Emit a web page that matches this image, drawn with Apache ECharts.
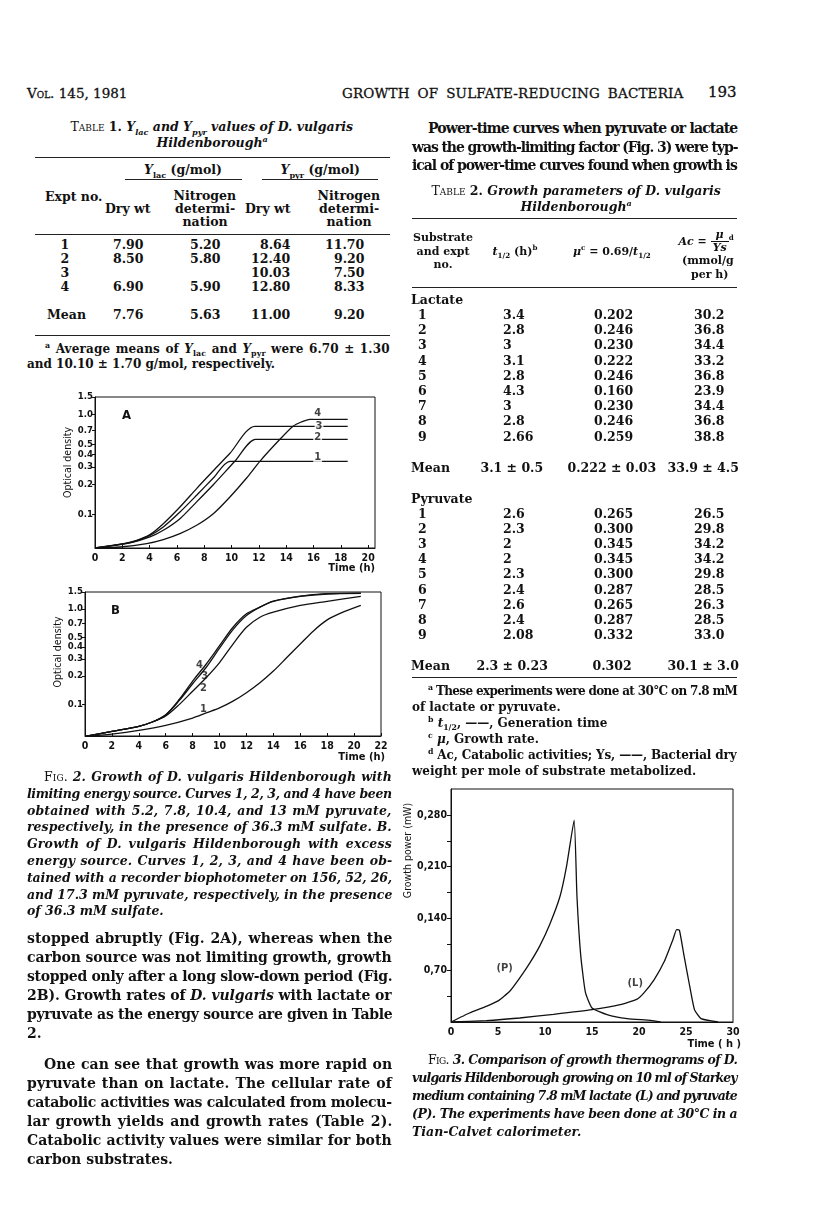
<!DOCTYPE html>
<html>
<head>
<meta charset="utf-8">
<script src="https://cdn.jsdelivr.net/npm/echarts@6/dist/echarts.min.js"></script>
<style>
  body { margin: 0; background: #fff; }
  #page { position: relative; width: 816px; height: 1231px; overflow: hidden;
          font-family: 'DejaVu Serif', serif; color: #111; }
  .t { position: absolute; white-space: nowrap; line-height: 16px; font-size: 14px; font-weight: bold; }
  .sc { font-variant: small-caps; }
  .cap { font-style: italic; font-size: 12.5px; }
  .tb { font-size: 12.5px; }
  .hd { font-size: 11px; }
  .fn { font-size: 12px; }
  .head { font-size: 13.5px; font-weight: normal; -webkit-text-stroke: 0.3px #111; }
  .big { font-size: 15px; }
  .rule { position: absolute; height: 0; border-top: 1px solid #222; }
  .chart { position: absolute; }
  sub, sup { font-size: 65%; line-height: 0; }
  .frac { display: inline-block; vertical-align: middle; text-align: center; line-height: 12px; }
  .frac span { display: block; padding: 0 2px; }
  .frac span:first-child { border-bottom: 1px solid #111; }
</style>
</head>
<body>
<div id="page">
  <div id="figA" class="chart" style="left:30px;top:380px;width:400px;height:200px"></div>
  <div id="figB" class="chart" style="left:20px;top:575px;width:400px;height:195px"></div>
  <div id="fig3" class="chart" style="left:380px;top:770px;width:400px;height:290px"></div>
</div>
<script type="text/javascript">
// ---------- data ----------
// Fig. 2A: optical density against time (h), limiting energy source
var curveA1 = [[0,0.0463],[2.56,0.0524],[4.02,0.062],[5,0.0752],[6.22,0.106],[7.44,0.156],[8.66,0.232],[9.88,0.341],[18.5,0.341]];
var curveA2 = [[0,0.0463],[2.56,0.052],[4.02,0.0597],[5,0.0696],[6.22,0.091],[7.44,0.134],[8.66,0.199],[10.24,0.341],[11.76,0.566],[18.5,0.566]];
var curveA3 = [[0,0.0463],[1.83,0.0505],[3.05,0.0553],[4.02,0.063],[5,0.0811],[6.22,0.119],[7.44,0.182],[8.66,0.274],[9.88,0.41],[11.7,0.764],[18.5,0.764]];
var curveA4 = [[0,0.0463],[1.83,0.0474],[3.78,0.0512],[5,0.0562],[6.22,0.0644],[7.44,0.0781],[8.66,0.102],[9.88,0.15],[11.1,0.232],[12.07,0.341],[13.54,0.566],[14.5,0.764],[15.1,0.843],[15.73,0.897],[18.5,0.897]];
var tagsA = [[16.3,1.04,'4'],[16.4,0.767,'3'],[16.3,0.595,'2'],[16.3,0.375,'1']];

// Fig. 2B: optical density against time (h), excess energy source
var curveB1 = [[0,0.0465],[2,0.0492],[4,0.0537],[6,0.0607],[8,0.0724],[9,0.0818],[10,0.0923],[11,0.1086],[12,0.133],[13,0.169],[14,0.224],[15,0.31],[16,0.429],[17,0.592],[18,0.767],[19,0.901],[20.5,1.086]];
var curveB2 = [[0,0.0465],[2,0.0525],[4,0.0593],[5,0.0658],[6,0.076],[7,0.1],[8,0.138],[9,0.191],[10,0.275],[11,0.429],[12,0.642],[13,0.818],[14,0.923],[16,1.086],[18,1.2],[20.5,1.35]];
var curveB3 = [[0,0.0465],[2,0.0525],[4,0.0593],[5,0.0658],[6,0.078],[7,0.11],[8,0.165],[9,0.244],[10,0.389],[11,0.607],[12,0.851],[13,1.043],[14,1.2],[16,1.35],[18,1.43],[20.5,1.45]];
var curveB4 = [[0,0.0465],[2,0.0525],[4,0.0593],[5,0.0658],[6,0.0785],[7,0.113],[8,0.176],[9,0.264],[10,0.412],[11,0.642],[12,0.887],[13,1.043],[14,1.206],[16,1.36],[18,1.44],[20.5,1.46]];
var tagsB = [[8.5,0.26,'4'],[8.9,0.199,'3'],[8.8,0.148,'2'],[8.8,0.0887,'1']];

var odTicks = [0.1, 0.2, 0.3, 0.4, 0.5, 0.7, 1.0, 1.5];
var timeTicksA = [0, 2, 4, 6, 8, 10, 12, 14, 16, 18, 20];
var timeTicksB = [0, 2, 4, 6, 8, 10, 12, 14, 16, 18, 20, 22];

// Fig. 3: growth power (mW) against time (h)
var powerP = [[0,0],[1.96,0.0122],[3.75,0.0212],[5.07,0.0289],[6.25,0.0415],[7.32,0.0596],[8.39,0.0799],[9.46,0.1033],[10.5,0.1318],[11.6,0.17],[12.3,0.211],[13.1,0.273],[13.4,0.17],[13.8,0.09],[14.3,0.04],[15,0.019],[16.6,0.0099],[18.75,0.0045],[21.25,0.0023],[22.3,0]];
var powerL = [[0,0],[3.75,0.0018],[7.3,0.0054],[10.9,0.0104],[15,0.0167],[18,0.0235],[19.8,0.031],[20.5,0.039],[21.6,0.057],[22.7,0.082],[23.6,0.111],[24.0,0.125],[24.3,0.124],[24.8,0.0889],[25.4,0.048],[25.9,0.0167],[26.6,0.0045],[28.4,0]];
var tags3 = [[5.7,0.0731,'(P)'],[19.6,0.0528,'(L)']];
var powerTicks = [0.035, 0.07, 0.105, 0.14, 0.175, 0.21, 0.245, 0.28];
var powerLabelValues = [0.07, 0.14, 0.21, 0.28];
var powerLabels = ['0,70', '0,140', '0,210', '0,280'];
var timeTicks3 = [0, 5, 10, 15, 20, 25, 30];

// Table 1
var t1Expt = ['1', '2', '3', '4'];
var t1LacDry = ['7.90', '8.50', '', '6.90'];
var t1LacN = ['5.20', '5.80', '', '5.90'];
var t1PyrDry = ['8.64', '12.40', '10.03', '12.80'];
var t1PyrN = ['11.70', '9.20', '7.50', '8.33'];
var t1Mean = ['7.76', '5.63', '11.00', '9.20'];

// Table 2
var lacT = ['3.4', '2.8', '3', '3.1', '2.8', '4.3', '3', '2.8', '2.66'];
var lacMu = ['0.202', '0.246', '0.230', '0.222', '0.246', '0.160', '0.230', '0.246', '0.259'];
var lacAc = ['30.2', '36.8', '34.4', '33.2', '36.8', '23.9', '34.4', '36.8', '38.8'];
var lacMean = ['3.1 ± 0.5', '0.222 ± 0.03', '33.9 ± 4.5'];
var pyrT = ['2.6', '2.3', '2', '2', '2.3', '2.4', '2.6', '2.4', '2.08'];
var pyrMu = ['0.265', '0.300', '0.345', '0.345', '0.300', '0.287', '0.265', '0.287', '0.332'];
var pyrAc = ['26.5', '29.8', '34.2', '34.2', '29.8', '28.5', '26.3', '28.5', '33.0'];
var pyrMean = ['2.3 ± 0.23', '0.302', '30.1 ± 3.0'];

// ---------- page text ----------
var page = document.getElementById('page');

function txt(x, y, html, opt) {
  opt = opt || {};
  var d = document.createElement('div');
  d.className = 't ' + (opt.cls || '');
  d.innerHTML = html;
  page.appendChild(d);
  var w = d.offsetWidth;
  var left = x;
  if (opt.align === 'center') left = x - w / 2;
  else if (opt.align === 'right') left = x - w;
  if (opt.width) {
    // spread (or squeeze) a line to the column width
    var s = d.textContent;
    var n = (s.match(/ /g) || []).length;
    var extra = opt.width - w;
    var ls = extra >= 0 ? Math.min(0.5, extra * 0.4 / s.length) : Math.max(-1.2, extra / s.length);
    d.style.letterSpacing = ls + 'px';
    var w2 = d.offsetWidth;
    if (n) d.style.wordSpacing = ((opt.width - w2) / n) + 'px';
  }
  d.style.left = left + 'px';
  d.style.top = (y - d.offsetHeight / 2) + 'px';
}
function rule(x, y, w, thick) {
  var d = document.createElement('div');
  d.className = 'rule';
  d.style.left = x + 'px';
  d.style.top = y + 'px';
  d.style.width = w + 'px';
  if (thick) d.style.borderTopWidth = thick + 'px';
  page.appendChild(d);
}

// running head
txt(27, 93, '<span class="sc">Vol.</span> 145, 1981', {cls: 'head'});
txt(342, 93, 'GROWTH OF SULFATE-REDUCING BACTERIA', {width: 341, cls: 'head'});
txt(708, 92, '193', {cls: 'head big'});

// Table 1
txt(212, 127, '<span class="sc" style="font-weight:normal">Table</span> 1. <i>Y<sub>lac</sub> and Y<sub>pyr</sub> values of D. vulgaris</i>', {align: 'center', cls: 'tb'});
txt(212, 143, '<i>Hildenborough<sup>a</sup></i>', {align: 'center', cls: 'tb'});
rule(35, 157, 355, 1.5);
txt(183, 170, '<i>Y</i><sub>lac</sub> (g/mol)', {align: 'center', cls: 'tb'});
txt(320, 170, '<i>Y</i><sub>pyr</sub> (g/mol)', {align: 'center', cls: 'tb'});
rule(125, 179, 117);
rule(262, 179, 116);
txt(45, 197, 'Expt no.', {cls: 'tb'});
txt(128, 209, 'Dry wt', {align: 'center', cls: 'tb'});
txt(268, 209, 'Dry wt', {align: 'center', cls: 'tb'});
['Nitrogen', 'determi-', 'nation'].forEach(function (s, i) {
  txt(205, 196 + i * 13, s, {align: 'center', cls: 'tb'});
  txt(349, 196 + i * 13, s, {align: 'center', cls: 'tb'});
});
rule(35, 234, 355);
t1Expt.forEach(function (s, i) {
  var y = 245 + i * 14;
  txt(65, y, s, {align: 'center', cls: 'tb'});
  if (t1LacDry[i]) txt(128, y, t1LacDry[i], {align: 'center', cls: 'tb'});
  if (t1LacN[i]) txt(205, y, t1LacN[i], {align: 'center', cls: 'tb'});
  txt(290, y, t1PyrDry[i], {align: 'right', cls: 'tb'});
  txt(364, y, t1PyrN[i], {align: 'right', cls: 'tb'});
});
txt(47, 315, 'Mean', {cls: 'tb'});
txt(128, 315, t1Mean[0], {align: 'center', cls: 'tb'});
txt(205, 315, t1Mean[1], {align: 'center', cls: 'tb'});
txt(290, 315, t1Mean[2], {align: 'right', cls: 'tb'});
txt(364, 315, t1Mean[3], {align: 'right', cls: 'tb'});
rule(35, 335, 355, 1.5);
txt(45, 349, '<sup>a</sup> Average means of <i>Y</i><sub>lac</sub> and <i>Y</i><sub>pyr</sub> were 6.70 ± 1.30', {width: 345, cls: 'fn'});
txt(27, 364, 'and 10.10 ± 1.70 g/mol, respectively.', {cls: 'fn'});

// Fig. 2 caption
var cap2 = [
  '<span class="sc" style="font-style:normal;font-weight:normal">Fig.</span> 2. Growth of D. vulgaris Hildenborough with',
  'limiting energy source. Curves 1, 2, 3, and 4 have been',
  'obtained with 5.2, 7.8, 10.4, and 13 mM pyruvate,',
  'respectively, in the presence of 36.3 mM sulfate. B.',
  'Growth of D. vulgaris Hildenborough with excess',
  'energy source. Curves 1, 2, 3, and 4 have been ob-',
  'tained with a recorder biophotometer on 156, 52, 26,',
  'and 17.3 mM pyruvate, respectively, in the presence',
  'of 36.3 mM sulfate.'
];
cap2.forEach(function (s, i) {
  var last = i === cap2.length - 1;
  txt(i === 0 ? 44 : 27, 777 + i * 16.8, s, {cls: 'cap', width: last ? 0 : (i === 0 ? 348 : 365)});
});

// left body text
var body1 = [
  'stopped abruptly (Fig. 2A), whereas when the',
  'carbon source was not limiting growth, growth',
  'stopped only after a long slow-down period (Fig.',
  '2B). Growth rates of <i>D. vulgaris</i> with lactate or',
  'pyruvate as the energy source are given in Table',
  '2.'
];
var body2 = [
  'One can see that growth was more rapid on',
  'pyruvate than on lactate. The cellular rate of',
  'catabolic activities was calculated from molecu-',
  'lar growth yields and growth rates (Table 2).',
  'Catabolic activity values were similar for both',
  'carbon substrates.'
];
body1.forEach(function (s, i) {
  txt(27, 938 + i * 19, s, {width: i === body1.length - 1 ? 0 : 365});
});
body2.forEach(function (s, i) {
  txt(i === 0 ? 44 : 27, 1064 + i * 19, s, {width: i === body2.length - 1 ? 0 : (i === 0 ? 348 : 365)});
});

// right column text
txt(428, 128, 'Power-time curves when pyruvate or lactate', {width: 309});
txt(412, 147, 'was the growth-limiting factor (Fig. 3) were typ-', {width: 325});
txt(412, 165, 'ical of power-time curves found when growth is', {width: 325});

// Table 2
txt(576, 191, '<span class="sc" style="font-weight:normal">Table</span> 2. <i>Growth parameters of D. vulgaris</i>', {align: 'center', cls: 'tb'});
txt(576, 207, '<i>Hildenborough<sup>a</sup></i>', {align: 'center', cls: 'tb'});
rule(412, 218, 325, 1.5);
['Substrate', 'and expt', 'no.'].forEach(function (s, i) {
  txt(443, 238 + i * 13.5, s, {align: 'center', cls: 'hd'});
});
txt(515, 252, '<i>t</i><sub>1/2</sub> (h)<sup>b</sup>', {align: 'center', cls: 'hd'});
txt(612, 252, '<i>μ</i><sup>c</sup> = 0.69/<i>t</i><sub>1/2</sub>', {align: 'center', cls: 'hd'});
txt(706, 241, '<i>Ac</i> = <span class="frac"><span><i>μ</i></span><span><i>Ys</i></span></span><sup>d</sup>', {align: 'center', cls: 'hd'});
txt(708, 261, '(mmol/g', {align: 'center', cls: 'hd'});
txt(710, 275, 'per h)', {align: 'center', cls: 'hd'});
rule(412, 287, 325);

var ROW = 15.2;
function block(y0, name, tv, mv, av, mean) {
  txt(411, y0, name, {cls: 'tb'});
  tv.forEach(function (s, i) {
    var y = y0 + 15 + i * ROW;
    txt(418, y, String(i + 1), {cls: 'tb'});
    txt(503, y, s, {cls: 'tb'});
    txt(594, y, mv[i], {cls: 'tb'});
    txt(694, y, av[i], {cls: 'tb'});
  });
  var ym = y0 + 15 + 8 * ROW + 31;
  txt(411, ym, 'Mean', {cls: 'tb'});
  txt(512, ym, mean[0], {align: 'center', cls: 'tb'});
  txt(612, ym, mean[1], {align: 'center', cls: 'tb'});
  txt(703, ym, mean[2], {align: 'center', cls: 'tb'});
  return ym;
}
var lacEnd = block(300, 'Lactate', lacT, lacMu, lacAc, lacMean);
var pyrEnd = block(lacEnd + 31, 'Pyruvate', pyrT, pyrMu, pyrAc, pyrMean);
rule(412, pyrEnd + 11, 325, 1.5);
var fy = pyrEnd + 25;
txt(428, fy, '<sup>a</sup> These experiments were done at 30°C on 7.8 mM', {width: 309, cls: 'fn'});
txt(412, fy + 16, 'of lactate or pyruvate.', {cls: 'fn'});
txt(428, fy + 32, '<sup>b</sup> <i>t</i><sub>1/2</sub>, ——, Generation time', {cls: 'fn'});
txt(428, fy + 48, '<sup>c</sup> <i>μ</i>, Growth rate.', {cls: 'fn'});
txt(428, fy + 64, '<sup>d</sup> Ac, Catabolic activities; Ys, ——, Bacterial dry', {width: 309, cls: 'fn'});
txt(412, fy + 80, 'weight per mole of substrate metabolized.', {cls: 'fn'});

// Fig. 3 caption
var cap3 = [
  '<span class="sc" style="font-style:normal;font-weight:normal">Fig.</span> 3. Comparison of growth thermograms of D.',
  'vulgaris Hildenborough growing on 10 ml of Starkey',
  'medium containing 7.8 mM lactate (L) and pyruvate',
  '(P). The experiments have been done at 30°C in a',
  'Tian-Calvet calorimeter.'
];
cap3.forEach(function (s, i) {
  var last = i === cap3.length - 1;
  txt(i === 0 ? 428 : 412, 1060 + i * 18, s, {cls: 'cap', width: last ? 0 : (i === 0 ? 309 : 325)});
});

// ---------- charts ----------
var SANS = "'DejaVu Sans Condensed', 'DejaVu Sans', sans-serif";
var INK = '#111';

function logPts(pts) {
  return pts.map(function (p) { return [p[0], Math.log10(p[1])]; });
}
function curve(data, smooth) {
  return {
    type: 'line', data: data, symbol: 'none', smooth: smooth,
    lineStyle: {color: INK, width: 1.3}, silent: true
  };
}
function tagSeries(list, useLog, bg) {
  return {
    type: 'scatter', symbolSize: 1, itemStyle: {color: 'rgba(0,0,0,0)'}, silent: true, z: 5,
    data: list.map(function (t) { return {name: t[2], value: [t[0], useLog ? Math.log10(t[1]) : t[1]]}; }),
    label: {show: true, position: 'inside', formatter: '{b}', color: INK, fontSize: 11, fontWeight: 'bold', fontFamily: SANS,
            backgroundColor: bg ? '#fff' : 'transparent', padding: bg ? [0, 1] : 0}
  };
}
function timeAxis(max, ticks, showTicks, gap, pad) {
  return {
    type: 'value', min: 0, max: max,
    axisLine: {show: true, onZero: false, lineStyle: {color: INK, width: 1}},
    axisTick: {show: showTicks, inside: true, length: 3, customValues: ticks, lineStyle: {color: INK}},
    axisLabel: {customValues: ticks, color: INK, fontSize: 10.5, fontWeight: 'bold', fontFamily: SANS, margin: 5},
    splitLine: {show: false},
    name: max === 30 ? 'Time ( h )' : 'Time (h)', nameLocation: 'end', nameGap: gap, nameMoveOverlap: false,
    nameTextStyle: {align: 'right', verticalAlign: 'top', padding: [pad, 0, 0, 0], color: INK, fontSize: 11, fontWeight: 'bold', fontFamily: SANS}
  };
}
function odAxis(minOd, nameGap, shift) {
  var ticks = odTicks.map(function (v) { return Math.log10(v); });
  return {
    type: 'value', min: Math.log10(minOd), max: Math.log10(1.5),
    axisLine: {show: true, onZero: false, lineStyle: {color: INK, width: 1}},
    axisTick: {show: true, length: 3, customValues: ticks, lineStyle: {color: INK}},
    axisLabel: {customValues: ticks, color: INK, fontSize: 9.5, fontWeight: 'bold', fontFamily: SANS, margin: 2,
                formatter: function (v) { return Math.pow(10, v).toFixed(1); }},
    splitLine: {show: false},
    name: 'Optical density', nameLocation: 'middle', nameGap: nameGap, nameMoveOverlap: false,
    nameTextStyle: {color: INK, fontSize: 10.5, fontFamily: SANS, padding: [0, 0, 0, shift]}
  };
}

var chartA = echarts.init(document.getElementById('figA'));
chartA.setOption({
  animation: false,
  title: {text: 'A', left: 87, top: 24, textStyle: {fontSize: 13, fontWeight: 'bold', color: INK, fontFamily: SANS}},
  grid: {left: 65, top: 17, width: 280, height: 151, show: true, borderColor: INK, borderWidth: 1, outerBoundsMode: 'none'},
  xAxis: timeAxis(20.5, timeTicksA, true, 0, 15),
  yAxis: odAxis(0.0463, 21, 20),
  series: [curve(logPts(curveA1), 0.25), curve(logPts(curveA2), 0.25), curve(logPts(curveA3), 0.25),
           curve(logPts(curveA4), 0.25), tagSeries(tagsA, true, true)]
});

var chartB = echarts.init(document.getElementById('figB'));
chartB.setOption({
  animation: false,
  title: {text: 'B', left: 86, top: 24, textStyle: {fontSize: 13, fontWeight: 'bold', color: INK, fontFamily: SANS}},
  grid: {left: 65, top: 17, width: 296, height: 144, show: true, borderColor: INK, borderWidth: 1, outerBoundsMode: 'none'},
  xAxis: timeAxis(22, timeTicksB, true, 4, 16),
  yAxis: odAxis(0.047, 21, 24),
  series: [curve(logPts(curveB1), 0.3), curve(logPts(curveB2), 0.3), curve(logPts(curveB3), 0.3),
           curve(logPts(curveB4), 0.3), tagSeries(tagsB, true, false)]
});

var chart3 = echarts.init(document.getElementById('fig3'));
chart3.setOption({
  animation: false,
  grid: {left: 71, top: 19, width: 282, height: 233, show: true, borderColor: INK, borderWidth: 1, outerBoundsMode: 'none'},
  xAxis: timeAxis(30, timeTicks3, false, 8, 17),
  yAxis: {
    type: 'value', min: 0, max: 0.315,
    axisLine: {show: true, onZero: false, lineStyle: {color: INK, width: 1}},
    axisTick: {show: true, length: 4, customValues: powerTicks, lineStyle: {color: INK}},
    axisLabel: {customValues: powerLabelValues, color: INK, fontSize: 10.5, fontWeight: 'bold', fontFamily: SANS, margin: 4,
                formatter: function (v) {
                  for (var i = 0; i < powerLabelValues.length; i++) {
                    if (Math.abs(v - powerLabelValues[i]) < 1e-6) return powerLabels[i];
                  }
                  return '';
                }},
    splitLine: {show: false},
    name: 'Growth power (mW)', nameLocation: 'middle', nameGap: 37, nameMoveOverlap: false,
    nameTextStyle: {color: INK, fontSize: 10.5, fontFamily: SANS, padding: [0, 0, 0, 110]}
  },
  series: [curve(powerP, 0.15), curve(powerL, 0.15), tagSeries(tags3, false, false)]
});
</script>
</body>
</html>
